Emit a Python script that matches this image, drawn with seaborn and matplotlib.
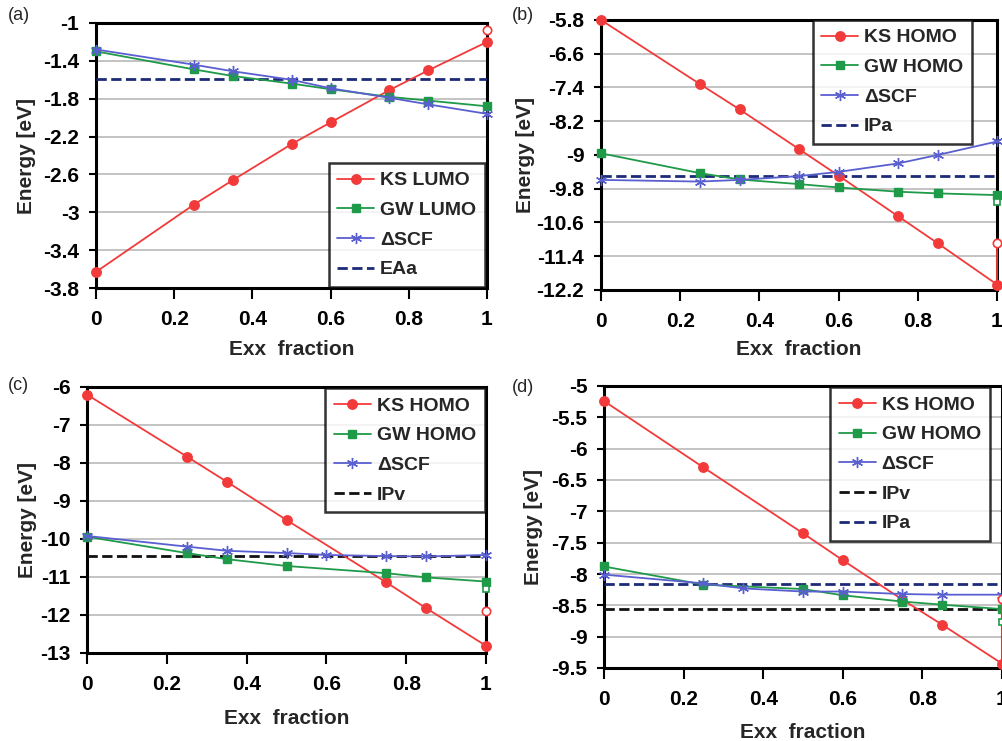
import numpy as np
import pandas as pd
import matplotlib
matplotlib.use("Agg")
import matplotlib.pyplot as plt
import seaborn as sns
from matplotlib.ticker import FixedLocator, FuncFormatter

sns.set_style("white")
plt.rcParams["font.family"] = ["Liberation Sans", "DejaVu Sans"]
plt.rcParams["font.weight"] = "bold"

# ---------------- data ----------------
exx_full = [0, 0.25, 0.35, 0.5, 0.6, 0.75, 0.85, 1]
exx_c = [0, 0.25, 0.35, 0.5, 0.75, 0.85, 1]
exx_d = [0, 0.25, 0.5, 0.6, 0.75, 0.85, 1]
x_ticks = [0, 0.2, 0.4, 0.6, 0.8, 1]

# (a) LUMO
a_ks = [-3.63, -2.92, -2.66, -2.28, -2.05, -1.71, -1.50, -1.20]
a_gw = [-1.30, -1.49, -1.56, -1.64, -1.70, -1.78, -1.82, -1.88]
a_scf = [-1.28, -1.44, -1.51, -1.60, -1.69, -1.79, -1.86, -1.96]
a_eaa = -1.59
a_ks_open = -1.07
a_yticks = [-1, -1.4, -1.8, -2.2, -2.6, -3, -3.4, -3.8]

# (b) HOMO
b_ks = [-5.80, -7.32, -7.92, -8.86, -9.49, -10.45, -11.09, -12.07]
b_gw = [-8.96, -9.43, -9.58, -9.69, -9.77, -9.87, -9.91, -9.95]
b_scf = [-9.59, -9.63, -9.59, -9.50, -9.40, -9.20, -9.00, -8.68]
b_ipa = -9.49
b_ks_open = -11.09
b_gw_open = -10.12
b_yticks = [-5.8, -6.6, -7.4, -8.2, -9, -9.8, -10.6, -11.4, -12.2]

# (c) HOMO
c_ks = [-6.20, -7.83, -8.49, -9.50, -11.14, -11.82, -12.81]
c_gw = [-9.94, -10.37, -10.53, -10.71, -10.90, -11.01, -11.12]
c_scf = [-9.92, -10.20, -10.31, -10.37, -10.42, -10.45, -10.46, -10.42]
c_ipv = -10.44
c_ks_open = -11.90
c_gw_open = -11.32
c_yticks = [-6, -7, -8, -9, -10, -11, -12, -13]

# (d) HOMO
d_ks = [-5.24, -6.30, -7.35, -7.78, -8.41, -8.81, -9.43]
d_gw = [-7.88, -8.17, -8.24, -8.34, -8.44, -8.49, -8.56]
d_scf = [-8.01, -8.15, -8.23, -8.28, -8.28, -8.32, -8.33, -8.33]
d_ipv = -8.56
d_ipa = -8.16
d_ks_open = -8.40
d_gw_open = -8.76
d_yticks = [-5, -5.5, -6, -6.5, -7, -7.5, -8, -8.5, -9, -9.5]

panel_letters = ["(a)", "(b)", "(c)", "(d)"]
xlabel_text = "Exx  fraction"
ylabel_text = "Energy [eV]"

RED = "#f23a3a"
GREEN = "#1f9a48"
BLUE = "#5a5fd0"
NAVY = "#1c2a78"
BLACK = "#111111"
STAR = (6, 2, 0)

W, H = 1003, 741
fig = plt.figure(figsize=(W / 100, H / 100), dpi=100)


def make_axes(left, right, top, bottom):
    return fig.add_axes([left / W, 1 - bottom / H, (right - left) / W, (bottom - top) / H])


def fmt(v, pos):
    v = round(v, 3)
    if abs(v) < 1e-9:
        return "0"
    return f"{v:g}"


def style_axes(ax, yticks, xpad, ypad):
    ax.set_xlim(0, 1)
    ax.set_ylim(min(yticks), max(yticks))
    ax.xaxis.set_major_locator(FixedLocator(x_ticks))
    ax.yaxis.set_major_locator(FixedLocator(yticks))
    ax.xaxis.set_major_formatter(FuncFormatter(fmt))
    ax.yaxis.set_major_formatter(FuncFormatter(fmt))
    ax.grid(axis="y", color="#b9b9b9", linewidth=1.2)
    ax.grid(axis="x", visible=False)
    ax.set_axisbelow(True)
    for s in ax.spines.values():
        s.set_color("black")
        s.set_linewidth(2.2)
    ax.tick_params(axis="x", direction="out", length=8, width=1.5, pad=8,
                   labelsize=15, colors="black", bottom=True)
    ax.tick_params(axis="y", direction="out", length=5, width=1.5, pad=7,
                   labelsize=15, colors="black", left=True)
    for lab in ax.get_xticklabels() + ax.get_yticklabels():
        lab.set_fontweight("bold")
    ax.set_xlabel(xlabel_text, fontsize=15, fontweight="bold", labelpad=xpad)
    ax.set_ylabel(ylabel_text, fontsize=15, fontweight="bold", labelpad=ypad)


def series(ax, x, y, color, marker, label, ms, mew=1.0):
    df = pd.DataFrame({"x": x, "y": y})
    sns.lineplot(data=df, x="x", y="y", ax=ax, color=color, marker=marker,
                 markersize=ms, markeredgecolor=color, markeredgewidth=mew,
                 linewidth=1.3, label=label, clip_on=False, zorder=4,
                 sort=False, estimator=None)


def open_point(ax, y, color, marker, ms):
    ax.plot([1], [y], linestyle="none", marker=marker, markersize=ms,
            markerfacecolor="white", markeredgecolor=color, markeredgewidth=1.2,
            clip_on=False, zorder=6)


def legend(ax, **kw):
    leg = ax.legend(frameon=True, fancybox=False, edgecolor="black",
                    prop={"weight": "bold", "size": 14}, handlelength=1.9,
                    handletextpad=0.3, labelspacing=0.62, borderpad=0.45,
                    borderaxespad=0.0, **kw)
    leg.get_frame().set_linewidth(1.8)
    leg.set_zorder(10)
    return leg


CIRC, SQ, ST = 6.8, 5.2, 8

# ---------- (a) ----------
ax = make_axes(96, 487, 23, 288)
series(ax, exx_full, a_ks, RED, "o", "KS LUMO", CIRC)
series(ax, exx_full, a_gw, GREEN, "s", "GW LUMO", SQ)
series(ax, exx_full, a_scf, BLUE, STAR, "ΔSCF", ST, 1.0)
ax.axhline(a_eaa, color=NAVY, linestyle="--", linewidth=2, label="EAa", zorder=3)
open_point(ax, a_ks_open, RED, "o", 6)
style_axes(ax, a_yticks, 8, 5)
legend(ax, loc="lower right", bbox_to_anchor=(0.995, 0.003))

# ---------- (b) ----------
ax = make_axes(601, 997, 20, 290)
series(ax, exx_full, b_ks, RED, "o", "KS HOMO", CIRC)
series(ax, exx_full, b_gw, GREEN, "s", "GW HOMO", SQ)
series(ax, exx_full, b_scf, BLUE, STAR, "ΔSCF", ST, 1.0)
ax.axhline(b_ipa, color=NAVY, linestyle="--", linewidth=2, label="IPa", zorder=3)
ax.plot([1, 1], [b_ks[-1], b_ks_open], color=RED, linewidth=1.3, clip_on=False, zorder=5)
open_point(ax, b_ks_open, RED, "o", 6)
open_point(ax, b_gw_open, GREEN, "s", 5)
style_axes(ax, b_yticks, 6, 1)
legend(ax, loc="upper right", bbox_to_anchor=(0.937, 1.0))

# ---------- (c) ----------
ax = make_axes(87, 486, 387, 653)
series(ax, exx_c, c_ks, RED, "o", "KS HOMO", CIRC)
series(ax, exx_c, c_gw, GREEN, "s", "GW HOMO", SQ)
series(ax, exx_full, c_scf, BLUE, STAR, "ΔSCF", ST, 1.0)
ax.axhline(c_ipv, color=BLACK, linestyle="--", linewidth=2, label="IPv", zorder=3)
open_point(ax, c_ks_open, RED, "o", 6)
open_point(ax, c_gw_open, GREEN, "s", 5)
style_axes(ax, c_yticks, 11, 2)
legend(ax, loc="upper right", bbox_to_anchor=(0.997, 0.995))

# ---------- (d) ----------
ax = make_axes(604, 1002, 386, 668)
series(ax, exx_d, d_ks, RED, "o", "KS HOMO", CIRC)
series(ax, exx_d, d_gw, GREEN, "s", "GW HOMO", SQ)
series(ax, exx_full, d_scf, BLUE, STAR, "ΔSCF", ST, 1.0)
ax.axhline(d_ipv, color=BLACK, linestyle="--", linewidth=2, label="IPv", zorder=3)
ax.axhline(d_ipa, color=NAVY, linestyle="--", linewidth=2, label="IPa", zorder=3)
ax.plot([1, 1], [d_ks[-1], d_ks_open], color=RED, linewidth=1.3, clip_on=False, zorder=5)
open_point(ax, d_ks_open, RED, "o", 6)
open_point(ax, d_gw_open, GREEN, "s", 5)
style_axes(ax, d_yticks, 10, 6)
legend(ax, loc="upper left", bbox_to_anchor=(0.568, 0.995))

# panel letters
for (px, py), letter in zip([(8, 16), (512, 16), (8, 386), (512, 388)], panel_letters):
    fig.text(px / W, 1 - py / H, letter, fontsize=13, fontweight="normal",
             va="center", ha="left")

fig.savefig("out.png", dpi=100, facecolor="white")
